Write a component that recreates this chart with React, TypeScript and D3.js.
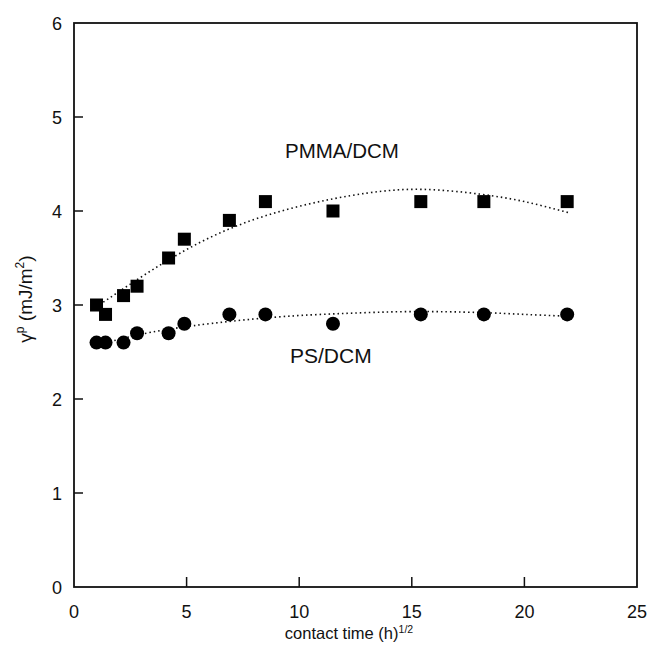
import React from "react";
import * as d3 from "d3";

const pmmaX = [1.0, 1.4, 2.2, 2.8, 4.2, 4.9, 6.9, 8.5, 11.5, 15.4, 18.2, 21.9];
const pmmaY = [3.0, 2.9, 3.1, 3.2, 3.5, 3.7, 3.9, 4.1, 4.0, 4.1, 4.1, 4.1];
const psX = [1.0, 1.4, 2.2, 2.8, 4.2, 4.9, 6.9, 8.5, 11.5, 15.4, 18.2, 21.9];
const psY = [2.6, 2.6, 2.6, 2.7, 2.7, 2.8, 2.9, 2.9, 2.8, 2.9, 2.9, 2.9];

const pmmaFitX = [1.3, 4.2, 7.0, 10.0, 13.0, 15.5, 18.0, 20.0, 22.0];
const pmmaFitY = [3.03, 3.48, 3.82, 4.05, 4.19, 4.23, 4.18, 4.1, 3.98];
const psFitX = [1.6, 3.0, 5.3, 8.9, 12.0, 15.0, 18.0, 20.0, 22.0];
const psFitY = [2.61, 2.69, 2.78, 2.87, 2.91, 2.93, 2.92, 2.9, 2.88];

const xTicks = [0, 5, 10, 15, 20, 25];
const yTicks = [0, 1, 2, 3, 4, 5, 6];

const W = 651;
const H = 663;
const L = 74;
const R = 637;
const T = 23;
const B = 587;

export default function App() {
  const x = d3.scaleLinear().domain([0, 25]).range([L, R]);
  const y = d3.scaleLinear().domain([0, 6]).range([B, T]);
  const line = d3
    .line<[number, number]>()
    .x((d) => x(d[0]))
    .y((d) => y(d[1]))
    .curve(d3.curveNatural);
  const pmmaFit = pmmaFitX.map((v, i) => [v, pmmaFitY[i]] as [number, number]);
  const psFit = psFitX.map((v, i) => [v, psFitY[i]] as [number, number]);
  const font = "Arial, 'Liberation Sans', Helvetica, sans-serif";
  const sq = 13;
  return (
    <svg
      width={W}
      height={H}
      style={{ position: "absolute", left: 0, top: 0, background: "#fff" }}
      fontFamily={font}
    >
      <rect x={0} y={0} width={W} height={H} fill="#fff" />
      {/* fit curves */}
      <path d={line(pmmaFit) || ""} fill="none" stroke="#111" strokeWidth={1.6} strokeDasharray="1.5,3" />
      <path d={line(psFit) || ""} fill="none" stroke="#111" strokeWidth={1.6} strokeDasharray="1.5,3" />
      {/* markers */}
      {pmmaX.map((v, i) => (
        <rect key={"s" + i} x={x(v) - sq / 2} y={y(pmmaY[i]) - sq / 2} width={sq} height={sq} fill="#000" />
      ))}
      {psX.map((v, i) => (
        <circle key={"c" + i} cx={x(v)} cy={y(psY[i])} r={7} fill="#000" />
      ))}
      {/* frame */}
      <rect x={L} y={T} width={R - L} height={B - T} fill="none" stroke="#111" strokeWidth={1.8} />
      {/* ticks */}
      {xTicks.slice(1, -1).map((t) => (
        <line key={"xt" + t} x1={x(t)} x2={x(t)} y1={B} y2={B - 10} stroke="#111" strokeWidth={1.5} />
      ))}
      {yTicks.slice(1, -1).map((t) => (
        <line key={"yt" + t} x1={L} x2={L + 9} y1={y(t)} y2={y(t)} stroke="#111" strokeWidth={1.5} />
      ))}
      {xTicks.map((t) => (
        <text key={"xl" + t} x={x(t)} y={B + 31} textAnchor="middle" fontSize={18} fill="#111">
          {t}
        </text>
      ))}
      {yTicks.map((t) => (
        <text key={"yl" + t} x={L - 12} y={y(t) + 6.5} textAnchor="end" fontSize={18} fill="#111">
          {t}
        </text>
      ))}
      {/* axis titles */}
      <text x={349} y={639} textAnchor="middle" fontSize={16.5} fill="#111">
        contact time (h)
        <tspan fontSize={10.5} dy={-6}>1/2</tspan>
      </text>
      <text transform="translate(32,299) rotate(-90)" textAnchor="middle" fontSize={19} fill="#111">
        γ<tspan fontSize={12} dy={-8}>p</tspan>
        <tspan dy={8}> (mJ/m</tspan>
        <tspan fontSize={12} dy={-8}>2</tspan>
        <tspan dy={8}>)</tspan>
      </text>
      {/* series labels */}
      <text x={285} y={158} fontSize={20.5} fill="#111">PMMA/DCM</text>
      <text x={290} y={363} fontSize={21} fill="#111">PS/DCM</text>
    </svg>
  );
}
